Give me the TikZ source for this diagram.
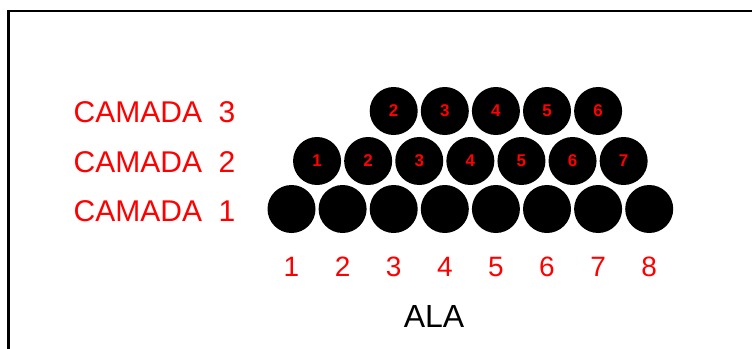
\documentclass[tikz,border=0pt]{standalone}
\usepackage{fontspec}
\setmainfont{Liberation Sans}
\begin{document}
\begin{tikzpicture}[x=1pt,y=-1pt,
  ball/.style={circle,fill=black,minimum size=48pt,inner sep=0pt,text=red,font=\fontsize{17}{17}\selectfont\bfseries},
  layerlabel/.style={text=red,font=\fontsize{30}{30}\selectfont,anchor=west,inner sep=0pt},
  colnum/.style={text=red,font=\fontsize{28}{28}\selectfont,inner sep=0pt},
  axislabel/.style={text=black,font=\fontsize{32}{32}\selectfont,inner sep=0pt},
  frameline/.style={line width=2.5pt}]
\useasboundingbox (0,0) rectangle (752,348);
\fill[white] (0,0) rectangle (752,348);
\draw[frameline] (8.5,349) -- (8.5,11) -- (753,11);
% bottom row (camada 1)
\foreach \k in {1,...,8}
  \node[ball] (b\k) at ({291.5+51.1*(\k-1)},209) {};
% middle row (camada 2)
\foreach \k in {1,...,7}
  \node[ball] (m\k) at ({291.5+51.1*(\k-0.5)},161) {\k};
% top row (camada 3)
\foreach \k in {2,...,6}
  \node[ball] (t\k) at ({291.5+51.1*\k},111) {\k};
% column numbers
\foreach \k in {1,...,8}
  \node[colnum] (n\k) at ({291.5+51.1*(\k-1)},267) {\k};
% layer labels
\node[layerlabel] (c3) at (73.5,112.5) {CAMADA\ \ 3};
\node[layerlabel] (c2) at (73.5,162.5) {CAMADA\ \ 2};
\node[layerlabel] (c1) at (73.5,211) {CAMADA\ \ 1};
\node[axislabel] (ala) at (434,316.5) {ALA};
\end{tikzpicture}
\end{document}
